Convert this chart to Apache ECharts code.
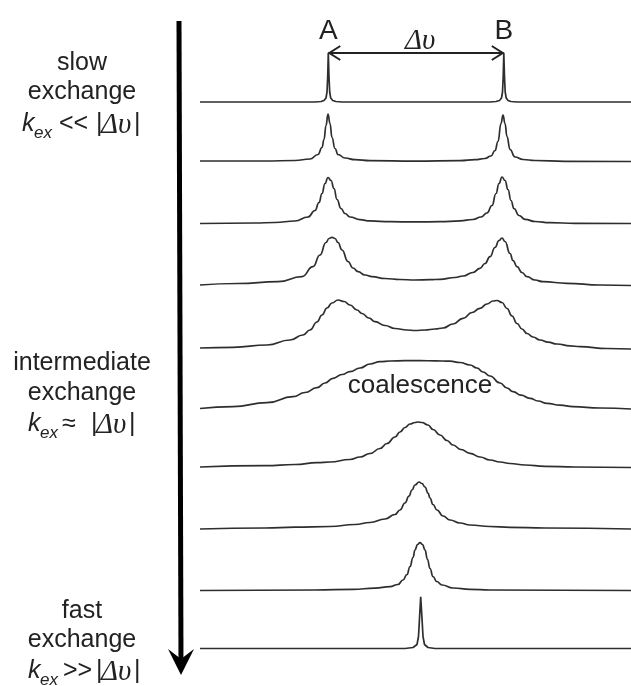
<!DOCTYPE html>
<html><head><meta charset="utf-8">
<script src="https://cdn.jsdelivr.net/npm/echarts@6/dist/echarts.min.js"></script>
<style>html,body{margin:0;padding:0;background:#fff}#c{width:631px;height:686px}</style>
</head><body><div id="c"></div>
<script>
// Frequency offset (arbitrary Hz, 0 = centre) and signal intensity
const spec1 = [[-215,0],[-100,0],[-94,0.5],[-91,1.5],[-89,4],[-88,10],[-87.3,25],[-86.7,49],[-86,25],[-85.3,10],[-84.3,4],[-82.3,1.5],[-79,0.5],[-73,0],[75,0],[81,0.5],[84.5,1.5],[86.5,4],[87.5,10],[88.2,25],[88.8,49],[89.5,25],[90.2,10],[91.2,4],[93,1.5],[96,0.5],[102,0],[216,0]];
const spec2 = [[-215,0.5],[-150,0.5],[-120,1],[-105,2.5],[-97,7],[-93,14],[-91,22],[-89,36],[-87,47.5],[-85,38],[-83,24],[-80,13],[-77,7],[-70,3.5],[-60,1.8],[-45,0.8],[0,0.3],[45,0.8],[60,1.8],[70,3],[76,5.5],[80,11],[83,20],[86,38],[88,46.5],[90,38],[92,25],[95,12],[100,4.5],[108,2],[120,1],[150,0.2],[216,0]];
const spec3 = [[-215,0],[-160,0.5],[-140,1],[-120,2.5],[-107,6.5],[-100,13],[-96,21],[-93,30],[-90,40],[-87,46],[-84,43],[-81,35],[-78,24],[-74,15],[-70,10],[-65,6.5],[-55,3.8],[-45,2.6],[-25,1.8],[0,1.6],[25,1.8],[45,2.6],[58,4],[66,6.5],[72,10.5],[77,18],[81,30],[84,40],[87,46.5],[90,43],[93,34],[96,23],[99,15],[104,8],[110,4.2],[120,2],[135,0.8],[160,0.2],[216,0]];
const spec4 = [[-215,0.5],[-177,2],[-137,3.8],[-113,8.8],[-102,18.8],[-95,30.5],[-89,43],[-86,47],[-83,48.2],[-80,47],[-77,43],[-73,35.5],[-67,24],[-62,17.5],[-57,13.8],[-50,10.5],[-43,8.8],[-30,7],[-15,6],[0,5.5],[15,5.8],[25,6.2],[40,8],[48,9.5],[58,13],[65,17.2],[70,22],[75,28.8],[80,38],[84,45],[87,47.5],[90,44],[95,32],[98,25],[102,18.8],[107,13],[112,8.8],[120,5.5],[128,3.8],[152,2.2],[185,0.5],[216,0]];
const spec5 = [[-215,1],[-182,1.7],[-148,4],[-125,9],[-112,14],[-105,19],[-98,27],[-93,34],[-88,41],[-83,46],[-77,49],[-71,47.5],[-65,44],[-58,39],[-53,35.5],[-46,31],[-40,27.3],[-30,23.5],[-20,20.5],[-8,19],[0,18.5],[10,19],[20,20],[28,21],[38,25],[48,30.7],[57,36.5],[65,40.7],[72,45],[78,48],[82,48.5],[87,46.5],[92,40.5],[97,33],[102,25.5],[107,20],[112,15.5],[118,12],[125,9],[133,6.8],[142,5],[155,3.2],[165,2.3],[192,0.5],[216,0]];
const spec6 = [[-215,0.5],[-182,2.3],[-148,6.3],[-122,12.3],[-110,16.5],[-98,21.3],[-90,26],[-82,30.7],[-73,34.5],[-65,37.3],[-55,41],[-45,45],[-35,47.3],[-25,48],[-10,48.3],[5,48.3],[20,48.2],[35,47.8],[45,46.5],[55,44],[62,41],[68,37],[75,33],[85,26],[92,21],[98,17.3],[106,13.8],[115,10.7],[123,8],[132,5.7],[145,3.8],[158,2.3],[185,1],[216,0]];
const spec7 = [[-215,0.5],[-150,1.8],[-120,3],[-98,4.8],[-85,5.5],[-65,8],[-55,10.5],[-45,14],[-35,19],[-28,24],[-20,30.5],[-15,35.5],[-10,40],[-5,43.5],[0,45],[3,45.5],[7,45],[13,42.5],[18,38],[25,32.5],[32,27],[38,22.5],[46,18],[55,14.2],[65,10.5],[75,7.5],[85,5.5],[95,4],[110,2.5],[130,1.2],[160,0.5],[216,0]];
const spec8 = [[-215,0],[-150,1],[-120,1.8],[-85,2.5],[-60,4.5],[-45,6.5],[-30,10],[-20,14.5],[-15,19],[-10,26],[-6,33],[-3,39],[0,44],[4,47],[7,45.5],[10,42],[13,36],[15,31],[18,24.5],[22,19],[28,13],[35,9],[45,6],[55,4],[75,2.5],[95,1.7],[130,1],[216,0]];
const spec9 = [[-215,0],[-100,0.5],[-62,1.2],[-40,2.3],[-25,3.8],[-17,6],[-12,10.5],[-8,16],[-5,24],[-2,33],[0,40.5],[2.5,46],[5,47.8],[7.5,46],[10,40.5],[12.5,31],[15,22],[18,14],[21.7,9],[27,5.5],[38,2.5],[55,1.2],[75,0.5],[216,0]];
const spec10 = [[-215,0],[-10,0],[-2,1],[2,4],[3.5,12],[4.5,30],[5.7,51.8],[7,30],[8,12],[9.5,4],[13,1],[20,0],[216,0]];
const spectra = [spec1,spec2,spec3,spec4,spec5,spec6,spec7,spec8,spec9,spec10];
const sharp = [true,false,false,false,false,false,false,false,false,true];
const peakA = [-86.7, 49], peakB = [88.8, 49];
const peakLabels = ['A','B'];
const deltaLabel = 'Δυ';
const coalLabel = 'coalescence';
const regimeLines = [['slow','exchange','<<'],['intermediate','exchange','≈'],['fast','exchange','>>']];

// layout
const baseY = [102,161.5,223.5,285.5,349,409,467.5,529,590.5,648.5];
const H = 60;
const SANS = "'Liberation Sans', Arial, sans-serif";
const SERIF = "'Liberation Serif', 'DejaVu Serif', serif";
const INK = '#222';

const chart = echarts.init(document.getElementById('c'), null, {renderer:'canvas'});
const option = {
  animation:false,
  backgroundColor:'#fff',
  grid: baseY.map(b => ({left:200, right:0, top:b-H, height:H})),
  xAxis: baseY.map((b,i) => ({type:'value', gridIndex:i, min:-215, max:216, show:false})),
  yAxis: baseY.map((b,i) => ({type:'value', gridIndex:i, min:0, max:H, show:false})),
  series: spectra.map((d,i) => ({
    type:'line', xAxisIndex:i, yAxisIndex:i, data:d, symbol:'none', showSymbol:false,
    smooth: sharp[i] ? false : 0.5, smoothMonotone:'x', clip:false, silent:true,
    lineStyle:{color:'#2e2e2e', width:1.7}
  }))
};
chart.setOption(option);

const pA = chart.convertToPixel({gridIndex:0}, peakA);
const pB = chart.convertToPixel({gridIndex:0}, peakB);
const ay = pA[1];
const g = [];
// Δυ arrow
g.push({type:'line', shape:{x1:pA[0], y1:ay, x2:pB[0], y2:ay}, style:{stroke:INK, lineWidth:2}});
g.push({type:'polyline', shape:{points:[[pA[0]+12,ay-7],[pA[0]+1,ay],[pA[0]+12,ay+7]]}, style:{stroke:INK, lineWidth:2, fill:null}});
g.push({type:'polyline', shape:{points:[[pB[0]-12,ay-7],[pB[0]-1,ay],[pB[0]-12,ay+7]]}, style:{stroke:INK, lineWidth:2, fill:null}});
g.push({type:'text', x:pA[0], y:31, style:{text:peakLabels[0], font:'28px '+SANS, fill:INK, align:'center', verticalAlign:'middle'}});
g.push({type:'text', x:pB[0], y:31, style:{text:peakLabels[1], font:'28px '+SANS, fill:INK, align:'center', verticalAlign:'middle'}});
g.push({type:'text', x:(pA[0]+pB[0])/2+4, y:41, style:{text:deltaLabel, font:'italic 29px '+SERIF, fill:INK, align:'center', verticalAlign:'middle'}});
g.push({type:'text', x:420, y:386, style:{text:coalLabel, font:'26px '+SANS, fill:INK, align:'center', verticalAlign:'middle'}});
// big arrow
g.push({type:'line', shape:{x1:179, y1:21, x2:181, y2:664}, style:{stroke:'#000', lineWidth:5}});
g.push({type:'polygon', shape:{points:[[168,649],[181,659],[194,649],[181,675]]}, style:{fill:'#000'}});
// regime labels
const rows = [
  {l1:63, l2:92, f:124.5, kx:22, op:59, bar:96},
  {l1:363, l2:393, f:424.5, kx:28, op:62, bar:91},
  {l1:611, l2:640, f:671.5, kx:28, op:63, bar:96}
];
rows.forEach((r,i) => {
  const t = regimeLines[i];
  g.push({type:'text', x:82, y:r.l1, style:{text:t[0], font:'25px '+SANS, fill:INK, align:'center', verticalAlign:'middle'}});
  g.push({type:'text', x:82, y:r.l2, style:{text:t[1], font:'25px '+SANS, fill:INK, align:'center', verticalAlign:'middle'}});
  g.push({type:'text', x:r.kx, y:r.f, style:{text:'k', font:'italic 25px '+SANS, fill:INK, align:'left', verticalAlign:'middle'}});
  g.push({type:'text', x:r.kx+12, y:r.f+8.5, style:{text:'ex', font:'italic 17px '+SANS, fill:INK, align:'left', verticalAlign:'middle'}});
  g.push({type:'text', x:r.op, y:r.f, style:{text:t[2], font:'25px '+SANS, fill:INK, align:'left', verticalAlign:'middle'}});
  g.push({type:'text', x:r.bar, y:r.f, style:{text:'|', font:'25px '+SANS, fill:INK, align:'left', verticalAlign:'middle'}});
  g.push({type:'text', x:r.bar+5, y:r.f+1, style:{text:deltaLabel, font:'italic 29px '+SERIF, fill:INK, align:'left', verticalAlign:'middle'}});
  g.push({type:'text', x:r.bar+38, y:r.f, style:{text:'|', font:'25px '+SANS, fill:INK, align:'left', verticalAlign:'middle'}});
});
chart.setOption({graphic:{elements:g}});
</script></body></html>
